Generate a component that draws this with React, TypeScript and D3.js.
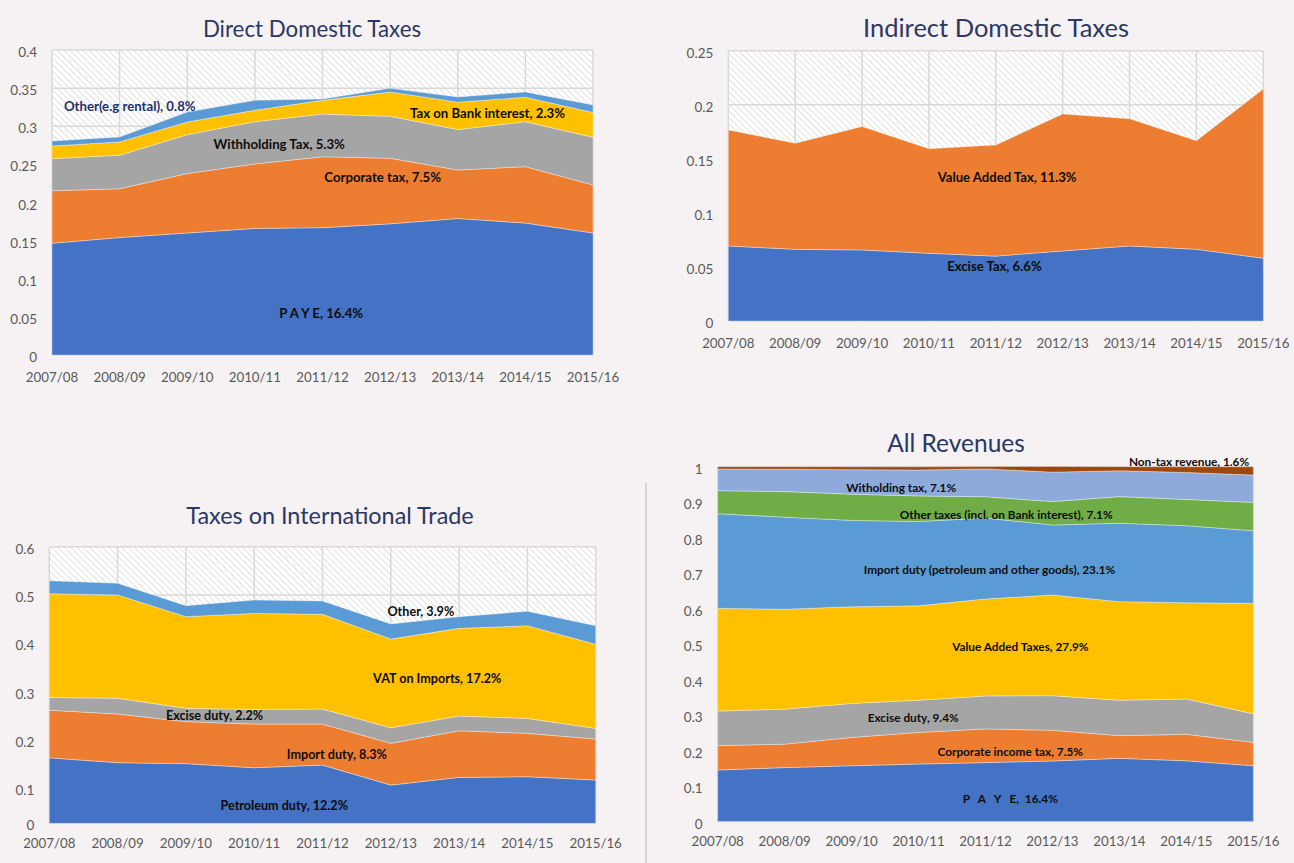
import React from 'react';
import * as d3 from 'd3';

// ---------- DATA ----------
const years = ['2007/08', '2008/09', '2009/10', '2010/11', '2011/12', '2012/13', '2013/14', '2014/15', '2015/16'];

// Direct Domestic Taxes (share of GDP)
const directPAYE = [0.1465, 0.154, 0.16, 0.166, 0.167, 0.172, 0.179, 0.173, 0.16];
const directCorporate = [0.069, 0.064, 0.078, 0.0845, 0.093, 0.086, 0.0636, 0.074, 0.063];
const directWithholding = [0.042, 0.044, 0.051, 0.0555, 0.056, 0.055, 0.053, 0.059, 0.0625];
const directBankInterest = [0.0165, 0.0175, 0.0166, 0.015, 0.018, 0.032, 0.036, 0.032, 0.0325];
const directOther = [0.0067, 0.0065, 0.013, 0.013, 0.0017, 0.0047, 0.0068, 0.007, 0.01];
const directTicks = [0, 0.05, 0.1, 0.15, 0.2, 0.25, 0.3, 0.35, 0.4];

// Indirect Domestic Taxes
const indirectExcise = [0.0694, 0.0663, 0.0657, 0.0626, 0.06, 0.0648, 0.0694, 0.0663, 0.058];
const indirectVAT = [0.1073, 0.0981, 0.1141, 0.0968, 0.1028, 0.1267, 0.1177, 0.1005, 0.1566];
const indirectTicks = [0, 0.05, 0.1, 0.15, 0.2, 0.25];

// Taxes on International Trade
const tradePetroleum = [0.163, 0.153, 0.151, 0.1425, 0.148, 0.1066, 0.1226, 0.124, 0.117];
const tradeImport = [0.0987, 0.1007, 0.0869, 0.0904, 0.0849, 0.0864, 0.0964, 0.0897, 0.0849];
const tradeExcise = [0.0263, 0.0325, 0.0277, 0.0304, 0.0311, 0.0323, 0.0305, 0.031, 0.0221];
const tradeVAT = [0.2145, 0.2139, 0.1896, 0.1987, 0.196, 0.1836, 0.1815, 0.1917, 0.174];
const tradeOther = [0.0269, 0.0242, 0.0228, 0.0276, 0.0276, 0.0311, 0.024, 0.0299, 0.0384];
const tradeTicks = [0, 0.1, 0.2, 0.3, 0.4, 0.5, 0.6];

// All Revenues (shares of total)
const allPAYE = [0.145, 0.152, 0.157, 0.162, 0.166, 0.1705, 0.178, 0.171, 0.157];
const allCorporate = [0.0687, 0.066, 0.08, 0.089, 0.095, 0.0865, 0.064, 0.0747, 0.066];
const allExcise = [0.0977, 0.0986, 0.0958, 0.091, 0.093, 0.0976, 0.0998, 0.0996, 0.0806];
const allVAT = [0.2895, 0.2818, 0.2723, 0.2658, 0.2733, 0.2838, 0.2779, 0.2714, 0.3112];
const allImport = [0.2666, 0.2594, 0.2436, 0.2378, 0.228, 0.1973, 0.221, 0.217, 0.2046];
const allOtherTaxes = [0.065, 0.072, 0.074, 0.072, 0.06, 0.066, 0.075, 0.074, 0.08];
const allWithholding = [0.061, 0.063, 0.069, 0.073, 0.0785, 0.083, 0.073, 0.076, 0.077];
const allNonTax = [0.0065, 0.007, 0.008, 0.009, 0.0065, 0.016, 0.0113, 0.016, 0.0234];
const allTicks = [0, 0.1, 0.2, 0.3, 0.4, 0.5, 0.6, 0.7, 0.8, 0.9, 1];

// ---------- STYLE ----------
const C = {
  blue: '#4472c4',
  orange: '#ed7d31',
  gray: '#a5a5a5',
  yellow: '#ffc000',
  lightBlue: '#5b9bd5',
  green: '#70ad47',
  paleBlue: '#8eaadb',
  brown: '#9e480e',
};
const FONT = 'Lato, "Open Sans", sans-serif';
const BG = '#f6f2f3';

type Series = { key: string; values: number[]; color: string };
type Label = { text: string; i: number; v: number; color?: string };
type PanelCfg = {
  id: string;
  title: string;
  titleX: number;
  titleY: number;
  titleSize: number;
  left: number;
  right: number;
  yDomain: number[];
  yRange: number[];
  ticks: number[];
  series: Series[];
  labels: Label[];
  labelSize: number;
  xLabelOffset: number;
};

function Panel({ cfg }: { cfg: PanelCfg }) {
  const x = d3.scaleLinear().domain([0, years.length - 1]).range([cfg.left, cfg.right]);
  const y = d3.scaleLinear().domain(cfg.yDomain).range(cfg.yRange);
  const top = y(cfg.yDomain[cfg.yDomain.length - 1]);
  const bottom = y(0);
  const table = years.map((_, i) => {
    const o: any = {};
    cfg.series.forEach((s) => (o[s.key] = s.values[i]));
    return o;
  });
  const stacked = d3.stack().keys(cfg.series.map((s) => s.key))(table as any);
  const area = d3
    .area<any>()
    .x((_d: any, i: number) => x(i))
    .y0((d: any) => y(d[0]))
    .y1((d: any) => y(d[1]));

  return (
    <g>
      <text x={cfg.titleX} y={cfg.titleY} textAnchor="middle" fontFamily={FONT} fontSize={cfg.titleSize} fill="#2b3766">
        {cfg.title}
      </text>
      <rect x={cfg.left} y={top} width={cfg.right - cfg.left} height={bottom - top} fill="url(#hatch)" />
      {cfg.ticks.map((t) => (
        <line key={'h' + t} x1={cfg.left} x2={cfg.right} y1={y(t)} y2={y(t)} stroke="#d9d9d9" strokeWidth={1.5} />
      ))}
      {years.map((_, i) => (
        <line key={'v' + i} x1={x(i)} x2={x(i)} y1={top} y2={bottom} stroke="#d9d9d9" strokeWidth={1.5} />
      ))}
      {stacked.map((layer, k) => (
        <path key={layer.key} d={area(layer as any) || ''} fill={cfg.series[k].color} stroke="rgba(255,255,255,0.35)" strokeWidth={1} />
      ))}
      {cfg.ticks.map((t) => (
        <text
          key={'yl' + t}
          x={cfg.left - 15}
          y={y(t) + 2}
          textAnchor="end"
          dominantBaseline="central"
          fontFamily={FONT}
          fontSize={13.5}
          fill="#595959"
        >
          {String(t)}
        </text>
      ))}
      {years.map((yr, i) => (
        <text
          key={'xl' + i}
          x={x(i)}
          y={bottom + cfg.xLabelOffset}
          textAnchor="middle"
          dominantBaseline="central"
          fontFamily={FONT}
          fontSize={13.3}
          fill="#595959"
        >
          {yr}
        </text>
      ))}
      {cfg.labels.map((l) => (
        <text
          key={l.text}
          x={x(l.i)}
          y={y(l.v)}
          textAnchor="middle"
          dominantBaseline="central"
          fontFamily={FONT}
          fontWeight={700}
          fontSize={cfg.labelSize}
          fill={l.color || '#0d0d0d'}
          style={{ whiteSpace: 'pre' }}
        >
          {l.text}
        </text>
      ))}
    </g>
  );
}

const panels: PanelCfg[] = [
  {
    id: 'direct',
    title: 'Direct Domestic Taxes',
    titleX: 312,
    titleY: 36.5,
    titleSize: 22.3,
    left: 52,
    right: 593,
    yDomain: [0, 0.4],
    yRange: [355, 50],
    ticks: directTicks,
    series: [
      { key: 'PAYE', values: directPAYE, color: C.blue },
      { key: 'Corporate', values: directCorporate, color: C.orange },
      { key: 'Withholding', values: directWithholding, color: C.gray },
      { key: 'Bank', values: directBankInterest, color: C.yellow },
      { key: 'Other', values: directOther, color: C.lightBlue },
    ],
    labels: [
      { text: 'Other(e.g rental), 0.8%', i: 1.15, v: 0.3266, color: '#23306b' },
      { text: 'Withholding Tax, 5.3%', i: 3.36, v: 0.2767 },
      { text: 'Tax on Bank interest, 2.3%', i: 6.44, v: 0.3178 },
      { text: 'Corporate tax, 7.5%', i: 4.89, v: 0.233 },
      { text: 'P A Y E, 16.4%', i: 3.98, v: 0.0547 },
    ],
    labelSize: 13.2,
    xLabelOffset: 22,
  },
  {
    id: 'indirect',
    title: 'Indirect Domestic Taxes',
    titleX: 996,
    titleY: 37,
    titleSize: 25.5,
    left: 728.3,
    right: 1263.3,
    yDomain: [0, 0.25],
    yRange: [321, 50.7],
    ticks: indirectTicks,
    series: [
      { key: 'Excise', values: indirectExcise, color: C.blue },
      { key: 'VAT', values: indirectVAT, color: C.orange },
    ],
    labels: [
      { text: 'Value Added Tax, 11.3%', i: 4.17, v: 0.1329 },
      { text: 'Excise Tax, 6.6%', i: 3.98, v: 0.0512 },
    ],
    labelSize: 13.1,
    xLabelOffset: 22,
  },
  {
    id: 'trade',
    title: 'Taxes on International Trade',
    titleX: 330,
    titleY: 523.5,
    titleSize: 23.4,
    left: 49.3,
    right: 595.7,
    yDomain: [0, 0.1, 0.6],
    yRange: [823.3, 788.3, 546.7],
    ticks: tradeTicks,
    series: [
      { key: 'Petroleum', values: tradePetroleum, color: C.blue },
      { key: 'Import', values: tradeImport, color: C.orange },
      { key: 'Excise', values: tradeExcise, color: C.gray },
      { key: 'VAT', values: tradeVAT, color: C.yellow },
      { key: 'Other', values: tradeOther, color: C.lightBlue },
    ],
    labels: [
      { text: 'Excise duty, 2.2%', i: 2.42, v: 0.2516 },
      { text: 'Import duty, 8.3%', i: 4.21, v: 0.1708 },
      { text: 'Petroleum duty, 12.2%', i: 3.44, v: 0.0503 },
      { text: 'VAT on Imports, 17.2%', i: 5.68, v: 0.3275 },
      { text: 'Other, 3.9%', i: 5.44, v: 0.4669 },
    ],
    labelSize: 12.6,
    xLabelOffset: 20,
  },
  {
    id: 'all',
    title: 'All Revenues',
    titleX: 956,
    titleY: 451.5,
    titleSize: 24.5,
    left: 717.7,
    right: 1253.3,
    yDomain: [0, 1],
    yRange: [821.5, 466.7],
    ticks: allTicks,
    series: [
      { key: 'PAYE', values: allPAYE, color: C.blue },
      { key: 'Corporate', values: allCorporate, color: C.orange },
      { key: 'Excise', values: allExcise, color: C.gray },
      { key: 'VAT', values: allVAT, color: C.yellow },
      { key: 'Import', values: allImport, color: C.lightBlue },
      { key: 'OtherTaxes', values: allOtherTaxes, color: C.green },
      { key: 'Withholding', values: allWithholding, color: C.paleBlue },
      { key: 'NonTax', values: allNonTax, color: C.brown },
    ],
    labels: [
      { text: 'Non-tax revenue, 1.6%', i: 7.04, v: 1.016 },
      { text: 'Witholding tax, 7.1%', i: 2.74, v: 0.942 },
      { text: 'Other taxes (incl. on Bank interest), 7.1%', i: 4.31, v: 0.8639 },
      { text: 'Import duty (petroleum and other goods), 23.1%', i: 4.06, v: 0.7089 },
      { text: 'Value Added Taxes, 27.9%', i: 4.52, v: 0.4927 },
      { text: 'Excise duty, 9.4%', i: 2.92, v: 0.2926 },
      { text: 'Corporate income tax, 7.5%', i: 4.37, v: 0.1987 },
      { text: 'P   A   Y   E,  16.4%', i: 4.37, v: 0.0654 },
    ],
    labelSize: 11.8,
    xLabelOffset: 19.5,
  },
];

export default function App() {
  return (
    <svg
      width={1294}
      height={863}
      viewBox="0 0 1294 863"
      style={{ position: 'absolute', left: 0, top: 0, display: 'block' }}
    >
      <defs>
        <pattern id="hatch" width={4.5} height={4.5} patternUnits="userSpaceOnUse" patternTransform="rotate(-45)">
          <rect width={4.5} height={4.5} fill="#ffffff" />
          <line x1={0} y1={0} x2={0} y2={4.5} stroke="#d2d2d2" strokeWidth={1.3} />
        </pattern>
      </defs>
      <rect width={1294} height={863} fill={BG} />
      <line x1={646} x2={646} y1={483} y2={863} stroke="#d8d4d5" strokeWidth={2} />
      {panels.map((p) => (
        <Panel key={p.id} cfg={p} />
      ))}
    </svg>
  );
}
